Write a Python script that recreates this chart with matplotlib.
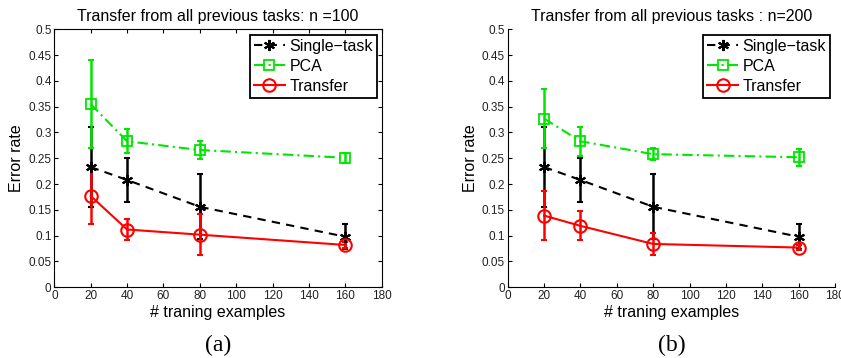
import matplotlib
matplotlib.use('Agg')
import matplotlib.pyplot as plt

# number of training examples
n_train = [20, 40, 80, 160]

# panel (a): n = 100
single_a = [0.233, 0.208, 0.156, 0.098]
single_a_err = [0.078, 0.043, 0.063, 0.024]
pca_a = [0.355, 0.283, 0.266, 0.251]
pca_a_err = [0.086, 0.023, 0.017, 0.010]
transfer_a = [0.177, 0.112, 0.102, 0.082]
transfer_a_err = [0.054, 0.021, 0.040, 0.006]

# panel (b): n = 200
single_b = [0.233, 0.208, 0.156, 0.098]
single_b_err = [0.078, 0.043, 0.063, 0.024]
pca_b = [0.327, 0.283, 0.258, 0.252]
pca_b_err = [0.057, 0.028, 0.011, 0.016]
transfer_b = [0.139, 0.119, 0.084, 0.077]
transfer_b_err = [0.047, 0.028, 0.021, 0.005]

titles = ['Transfer from all previous tasks: n =100',
          'Transfer from all previous tasks : n=200']
panel_labels = ['(a)', '(b)']
xticks = [0, 20, 40, 60, 80, 100, 120, 140, 160, 180]
yticks = [0, 0.05, 0.1, 0.15, 0.2, 0.25, 0.3, 0.35, 0.4, 0.45, 0.5]
ytick_labels = ['0', '0.05', '0.1', '0.15', '0.2', '0.25', '0.3',
                '0.35', '0.4', '0.45', '0.5']

plt.rcParams['font.family'] = ['Liberation Sans', 'DejaVu Sans']

fig = plt.figure(figsize=(8.41, 3.58), dpi=100)
ax_a = fig.add_axes([0.0646, 0.1975, 0.3893, 0.7207])
ax_b = fig.add_axes([0.6037, 0.1975, 0.3892, 0.7207])

panels = [
    (ax_a, single_a, single_a_err, pca_a, pca_a_err, transfer_a, transfer_a_err),
    (ax_b, single_b, single_b_err, pca_b, pca_b_err, transfer_b, transfer_b_err),
]

black = 'black'
green = '#00e600'
red = '#ff0000'
asterisk = (6, 2, 0)

for i, (ax, s, se, p, pe, t, te) in enumerate(panels):
    bars = dict(fmt='none', capsize=2.5, elinewidth=1.8, capthick=1.5)
    ax.errorbar(n_train, s, yerr=se, ecolor=black, **bars)
    ax.errorbar(n_train, p, yerr=pe, ecolor=green, **bars)
    ax.errorbar(n_train, t, yerr=te, ecolor=red, **bars)

    ax.plot(n_train, s, color=black, linestyle=(0, (4, 3)), linewidth=1.5,
            marker=asterisk, markersize=8, markeredgewidth=1.5,
            label='Single\u2212task')
    ax.plot(n_train, p, color=green, linestyle=(0, (5, 2, 1, 2)), linewidth=1.5,
            marker='s', markersize=7, markerfacecolor='none',
            markeredgewidth=1.3, label='PCA')
    ax.plot(n_train, t, color=red, linestyle='-', linewidth=1.5,
            marker='o', markersize=9, markerfacecolor='none',
            markeredgewidth=1.5, label='Transfer')

    ax.set_xlim(0, 180)
    ax.set_ylim(0, 0.5)
    ax.set_xticks(xticks)
    ax.set_yticks(yticks)
    ax.set_xticklabels([str(v) for v in xticks])
    ax.set_yticklabels(ytick_labels)
    ax.tick_params(direction='in', length=3, labelsize=8.5, pad=2,
                   labelcolor='#222222')
    ax.set_title(titles[i], fontsize=11.5, pad=6)
    ax.set_xlabel('# traning examples', fontsize=11.5, labelpad=2)
    ax.set_ylabel('Error rate', fontsize=11.5, labelpad=3)

    leg = ax.legend(loc='upper right', bbox_to_anchor=(0.985, 0.978),
                    borderaxespad=0, fontsize=11.5, fancybox=False,
                    framealpha=1, edgecolor='black', handlelength=1.9,
                    handletextpad=0.3, borderpad=0.25, labelspacing=0.3)
    leg.get_frame().set_linewidth(1.3)

    pos = ax.get_position()
    fig.text(pos.x0 + pos.width / 2, 0.036, panel_labels[i], ha='center',
             va='center', fontsize=17, family='Liberation Serif')

# left panel keeps the full box, right panel only has left/bottom axes
ax_a.tick_params(top=True, right=True)
for side in ['top', 'right']:
    ax_b.spines[side].set_visible(False)

plt.savefig('out.png', dpi=100)
